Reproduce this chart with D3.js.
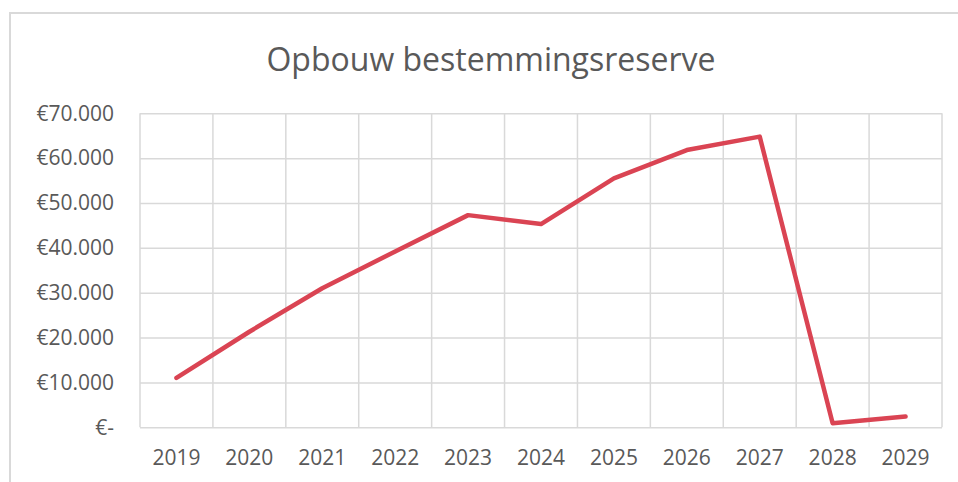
<!DOCTYPE html>
<html>
<head>
<meta charset="utf-8">
<script src="https://cdn.jsdelivr.net/npm/d3@7"></script>
<style>
  html, body { margin: 0; padding: 0; background: #fff; }
  svg { display: block; }
</style>
</head>
<body>
<svg id="chart" width="958" height="482"></svg>
<script>
const title = "Opbouw bestemmingsreserve";
const years = ["2019","2020","2021","2022","2023","2024","2025","2026","2027","2028","2029"];
const values = [11000, 21300, 31000, 39200, 47300, 45300, 55500, 61800, 64800, 900, 2400];
const yTicks = [0, 10000, 20000, 30000, 40000, 50000, 60000, 70000];

const svg = d3.select("#chart");
const W = 958, H = 482;
const m = { left: 140, right: 16, top: 113.3, bottom: 54.7 };
const font = "'Open Sans', 'Segoe UI', sans-serif";
const textColor = "#595959";
const gridColor = "#D9D9D9";

// outer chart border (partially visible)
svg.append("rect")
  .attr("x", 10).attr("y", 13)
  .attr("width", W + 20).attr("height", H + 20)
  .attr("fill", "none").attr("stroke", gridColor).attr("stroke-width", 2);

const x = d3.scaleBand().domain(years).range([m.left, W - m.right]).paddingInner(0).paddingOuter(0);
const y = d3.scaleLinear().domain([0, 70000]).range([H - m.bottom, m.top]);

// horizontal gridlines
svg.append("g")
  .attr("transform", `translate(${m.left},0)`)
  .call(d3.axisLeft(y).tickValues(yTicks).tickSize(-(W - m.right - m.left)).tickFormat(""))
  .call(g => g.select(".domain").remove())
  .call(g => g.selectAll("line").attr("stroke", gridColor).attr("stroke-width", 1.5));

// vertical gridlines at category boundaries
const bounds = years.map(d => x(d)).concat([x(years[years.length - 1]) + x.bandwidth()]);
svg.append("g").selectAll("line").data(bounds).join("line")
  .attr("x1", d => d).attr("x2", d => d)
  .attr("y1", y(70000)).attr("y2", y(0))
  .attr("stroke", gridColor).attr("stroke-width", 1.5);

// y labels
const fmt = v => v === 0 ? "€-" : "€" + d3.format(",")(v).replace(/,/g, ".");
svg.append("g")
  .attr("transform", `translate(${m.left},0)`)
  .call(d3.axisLeft(y).tickValues(yTicks).tickSize(0).tickPadding(26).tickFormat(fmt))
  .call(g => g.select(".domain").remove())
  .call(g => g.selectAll("text")
    .attr("fill", textColor).style("font-family", font).style("font-size", "21px"));

// x labels
svg.append("g")
  .attr("transform", `translate(0,${y(0)})`)
  .call(d3.axisBottom(x).tickSize(0).tickPadding(23))
  .call(g => g.select(".domain").remove())
  .call(g => g.selectAll("text")
    .attr("fill", textColor).style("font-family", font).style("font-size", "21px"));

// line
const line = d3.line()
  .x((d, i) => x(years[i]) + x.bandwidth() / 2)
  .y(d => y(d));
svg.append("path")
  .datum(values)
  .attr("d", line)
  .attr("fill", "none")
  .attr("stroke", "#DA4453")
  .attr("stroke-width", 4.5)
  .attr("stroke-linejoin", "round")
  .attr("stroke-linecap", "round");

// title
svg.append("text")
  .attr("x", 491).attr("y", 71)
  .attr("text-anchor", "middle")
  .attr("fill", textColor)
  .style("font-family", font)
  .style("font-size", "32px")
  .text(title);
</script>
</body>
</html>
